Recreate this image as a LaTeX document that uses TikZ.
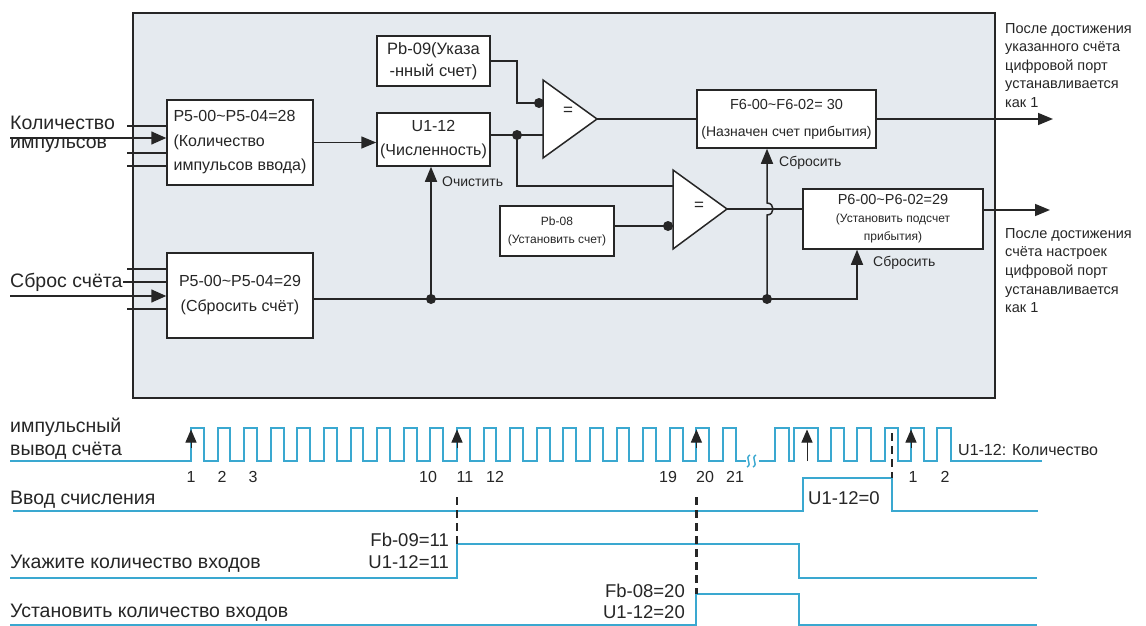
\documentclass[tikz,border=0pt]{standalone}
\usepackage{fontspec}
\setmainfont{Liberation Sans}
\usetikzlibrary{arrows.meta}
\definecolor{panel}{RGB}{229,234,239}
\definecolor{ink}{RGB}{38,38,38}
\definecolor{sigc}{RGB}{58,168,208}
\newcommand\fsz[2]{\fontsize{#1}{#2}\selectfont}
\begin{document}
\begin{tikzpicture}[x=1pt,y=-1pt,
  box/.style={draw=ink, line width=1.5pt, fill=white, inner sep=0pt, align=center, text=ink},
  wire/.style={draw=ink, line width=1.5pt},
  arr/.style={wire, -{Triangle[length=15pt,width=12pt]}},
  inarr/.style={wire, -{Triangle[length=15pt,width=13pt]}},
  dot/.style={circle, fill=ink, inner sep=0pt, minimum size=10pt},
  lbl/.style={text=ink, inner sep=0pt},
  sig/.style={draw=sigc, line width=1.9pt},
  guide/.style={draw=ink, line width=2.4pt, dash pattern=on 8pt off 5pt},
  tick/.style={draw=ink, line width=1pt, -{Triangle[length=13pt,width=11pt]}},
]
\useasboundingbox (0,0) rectangle (1146,626);
\fill[white] (0,0) rectangle (1146,626);
\node[draw=ink, line width=1.5pt, fill=panel, minimum width=862pt, minimum height=385pt, inner sep=0pt] (panel) at (564,205.5) {};

% ---------- boxes ----------
\node[box, minimum width=146pt, minimum height=85pt, align=left, font=\fsz{16}{24.5}] (p528) at (240,142.5) {P5-00\textasciitilde P5-04=28\\(Количество\\импульсов ввода)};
\node[box, minimum width=113pt, minimum height=53pt, font=\fsz{16}{24}] (u112) at (433.5,139.5) {U1-12\\(Численность)};
\node[box, minimum width=113pt, minimum height=50pt, font=\fsz{16.5}{22}] (pb09) at (433.5,61) {Pb-09(Указа\\-нный счет)};
\node[box, minimum width=179pt, minimum height=58pt, font=\fsz{14}{27}] (f6) at (786.5,119) {{\fsz{14.5}{27}F6-00\textasciitilde F6-02= 30}\\(Назначен счет прибытия)};
\node[box, minimum width=146pt, minimum height=85pt, font=\fsz{16}{25}] (p529) at (240,295.5) {P5-00\textasciitilde P5-04=29\\(Сбросить счёт)};
\node[box, minimum width=114pt, minimum height=50pt, font=\fsz{12}{18}] (pb08) at (557,231) {Pb-08\\(Установить счет)};
\node[box, minimum width=180pt, minimum height=60pt, font=\fsz{12}{18}] (p6) at (893,219) {{\fsz{14.5}{18}P6-00\textasciitilde P6-02=29}\\(Установить подсчет\\прибытия)};

% ---------- comparators ----------
\draw[wire, fill=white] (543,80) -- (543,158) -- (597,119) -- cycle;
\node[lbl, font=\fsz{17}{17}] (eq1) at (568,111) {=};
\coordinate (c1a) at (543,103);
\coordinate (c1b) at (543,135);
\coordinate (c1o) at (597,119);
\draw[wire, fill=white] (673,170) -- (673,249) -- (727,209) -- cycle;
\node[lbl, font=\fsz{17}{17}] (eq2) at (699,206) {=};
\coordinate (c2a) at (673,186);
\coordinate (c2b) at (673,226);
\coordinate (c2o) at (727,209);

% ---------- inputs on the left ----------
\coordinate (in1) at (10,138);
\coordinate (s1) at (127,126);
\coordinate (s2) at (127,153);
\coordinate (s3) at (127,166);
\draw[inarr] (in1) -- (in1 -| p528.west);
\draw[wire] (s1) -- (s1 -| p528.west);
\draw[wire] (s2) -- (s2 -| p528.west);
\draw[wire] (s3) -- (s3 -| p528.west);

\coordinate (in2) at (10,296);
\coordinate (t1) at (127,269);
\coordinate (t2) at (123,282);
\coordinate (t3) at (127,309);
\draw[inarr] (in2) -- (in2 -| p529.west);
\draw[wire] (t1) -- (t1 -| p529.west);
\draw[wire] (t2) -- (t2 -| p529.west);
\draw[wire] (t3) -- (t3 -| p529.west);

\node[lbl, anchor=base west, font=\fsz{19.5}{19.5}] (lq1) at (10,129) {Количество};
\node[lbl, anchor=base west, font=\fsz{19.5}{19.5}] (lq2) at (10,148) {импульсов};
\node[lbl, anchor=base west, font=\fsz{19.5}{19.5}] (lrs) at (10,287) {Сброс счёта};

% ---------- internal wiring ----------
\draw[arr] (p528.east) -- (p528.east -| u112.west);
\coordinate (d1) at (517,135);
\draw[wire] (d1 -| u112.east) -- (c1b);
\draw[wire] (pb09.east) -- (517,61) |- (c1a);
\draw[wire] (c1o) -- (c1o -| f6.west);
\draw[wire] (d1) |- (c2a);
\draw[wire] (c2b -| pb08.east) -- (c2b);
\draw[wire] (c2o) -- (c2o -| p6.west);

\coordinate (o1) at (1053,119);
\draw[arr] (f6.east) -- (o1);
\coordinate (o2) at (1050,210);
\draw[arr] (o2 -| p6.east) -- (o2);

\coordinate (r1) at (431,299);
\coordinate (r2) at (767,299);
\coordinate (r3) at (857,299);
\draw[arr] (r1 -| p529.east) -- (r3) -- (r3 |- p6.south);
\draw[arr] (r1) -- (r1 |- u112.south);
\draw[arr] (r2) -- (767,215) .. controls (775,215) and (775,203) .. (767,203) -- (r2 |- f6.south);

\node[dot] (dt1) at (d1) {};
\node[dot] (dt2) at (539,103) {};
\node[dot] (dt3) at (668,226) {};
\node[dot] (dt4) at (r1) {};
\node[dot] (dt5) at (r2) {};

\node[lbl, anchor=west, font=\fsz{14}{14}] (lclr) at (442,182) {Очистить};
\node[lbl, anchor=west, font=\fsz{14}{14}] (lrst1) at (779,163) {Сбросить};
\node[lbl, anchor=west, font=\fsz{14}{14}] (lrst2) at (873,263) {Сбросить};

\node[lbl, anchor=north west, align=left, font=\fsz{14.5}{18.5}] (rt1) at (1005,23) {После достижения\\указанного счёта\\цифровой порт\\устанавливается\\как 1};
\node[lbl, anchor=north west, align=left, font=\fsz{14.5}{18.7}] (rt2) at (1005,228) {После достижения\\счёта настроек\\цифровой порт\\устанавливается\\как 1};

% ---------- timing diagram ----------
\draw[sig] (10,461) -- (191,461)
  \foreach \k in {0,...,20}{ -- ({191+26.6*\k},461) -- ({191+26.6*\k},428) -- ({203.8+26.6*\k},428) -- ({203.8+26.6*\k},461)}
  -- (746,461);
\draw[sig, line width=1.4pt] (747,467) .. controls (753,464) and (744,458) .. (750,455);
\draw[sig, line width=1.4pt] (753,467) .. controls (759,464) and (750,458) .. (756,455);
\draw[sig] (759,461) -- (775,461) -- (775,428) -- (789,428) -- (789,461) -- (794,461) -- (794,428) -- (818,428) -- (818,461)
  -- (831,461) -- (831,428) -- (844,428) -- (844,461) -- (857,461) -- (857,428) -- (871,428) -- (871,461)
  -- (885,461) -- (885,428) -- (898,428) -- (898,461) -- (911,461) -- (911,428) -- (924,428) -- (924,461)
  -- (937,461) -- (937,428) -- (951,428) -- (951,461) -- (1042,461);

\draw[tick] (191,448) -- (191,429.5);
\draw[tick] (457,448) -- (457,429.5);
\draw[tick] (696.4,448) -- (696.4,429.5);
\draw[tick] (807,461) -- (807,429.5);
\draw[tick] (911,448) -- (911,429.5);

\draw[sig] (13,511) -- (803,511) -- (803,478) -- (892,478) -- (892,511) -- (1038,511);
\draw[sig] (10,578) -- (457,578) -- (457,544) -- (799,544) -- (799,578) -- (1037,578);
\draw[sig] (10,625) -- (696.4,625) -- (696.4,594) -- (799,594) -- (799,625) -- (1037,625);

\draw[guide] (457,497) -- (457,544);
\draw[guide] (696.4,497) -- (696.4,594);
\draw[guide] (892,433) -- (892,478);

\node[lbl, anchor=base west, font=\fsz{19.5}{19.5}] (tl1) at (10,432) {импульсный};
\node[lbl, anchor=base west, font=\fsz{19.5}{19.5}] (tl2) at (10,455) {вывод счёта};
\node[lbl, anchor=base west, font=\fsz{19.5}{19.5}] (tl3) at (10,504) {Ввод счисления};
\node[lbl, anchor=base west, font=\fsz{19.5}{19.5}] (tl4) at (10,568) {Укажите количество входов};
\node[lbl, anchor=base west, font=\fsz{19.5}{19.5}] (tl5) at (10,617) {Установить количество входов};

\foreach \x/\t [count=\i] in {191/1,222/2,253/3,428/10,465/11,495/12,668/19,705/20,735/21,913/1,945/2}
  \node[lbl, anchor=base, font=\fsz{16}{16}] (n\i) at (\x,482) {\t};

\node[lbl, anchor=base east, font=\fsz{18.5}{18.5}] (fa) at (449,546) {Fb-09=11};
\node[lbl, anchor=base east, font=\fsz{18.5}{18.5}] (fb) at (449,568) {U1-12=11};
\node[lbl, anchor=base east, font=\fsz{18.5}{18.5}] (fc) at (685,597) {Fb-08=20};
\node[lbl, anchor=base east, font=\fsz{18.5}{18.5}] (fd) at (685,618) {U1-12=20};
\node[lbl, anchor=base west, font=\fsz{18.5}{18.5}] (fe) at (808,504) {U1-12=0};
\node[lbl, anchor=base west, font=\fsz{16}{16}] (ff) at (958,455) {U1-12: Количество};
\end{tikzpicture}
\end{document}
